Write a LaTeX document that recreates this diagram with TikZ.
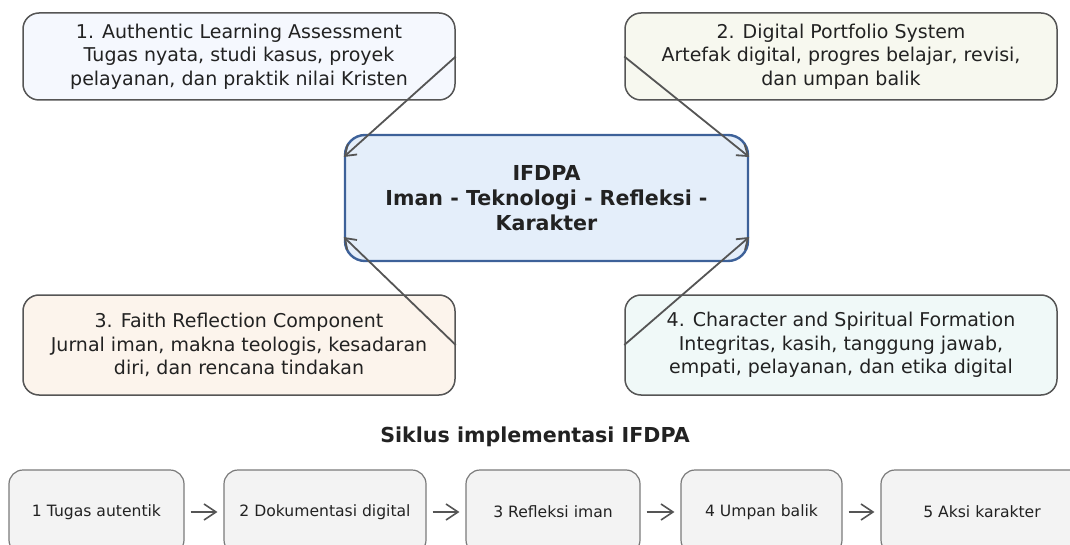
\documentclass[tikz,border=0pt]{standalone}
\usepackage{fontspec}
\setmainfont{DejaVu Sans}
\usetikzlibrary{arrows.meta}
\definecolor{inkgray}{HTML}{222222}
\definecolor{edgegray}{HTML}{555555}
\definecolor{fillauth}{HTML}{F5F8FE}
\definecolor{fillport}{HTML}{F7F8EF}
\definecolor{fillfaith}{HTML}{FCF4EC}
\definecolor{fillchar}{HTML}{F0F9F8}
\definecolor{fillhub}{HTML}{E4EEFA}
\definecolor{edgehub}{HTML}{3D6199}
\definecolor{fillcycle}{HTML}{F3F3F3}
\definecolor{edgecycle}{HTML}{7A7A7A}
\tikzset{>={Straight Barb[length=5pt,width=7pt]}}
\tikzset{
  compbox/.style={draw=edgegray, line width=0.75pt, rounded corners=8pt,
    minimum width=216pt, align=center, text=inkgray,
    font=\fontsize{9.5}{11.75}\selectfont},
  hubbox/.style={draw=edgehub, fill=fillhub, line width=1.2pt, rounded corners=10pt,
    minimum width=201.5pt, minimum height=63pt, align=center, text=inkgray,
    font=\fontsize{10.3}{12.6}\selectfont\bfseries},
  cyclebox/.style={draw=edgecycle, fill=fillcycle, line width=0.6pt, rounded corners=7pt,
    minimum height=42pt, text=inkgray, font=\fontsize{7.8}{9.5}\selectfont},
  link/.style={->, draw=edgegray, line width=0.9pt},
  cyclelink/.style={-{Straight Barb[length=6pt,width=8pt]}, draw=edgegray, line width=0.8pt,
    shorten <=3pt, shorten >=3pt}
}

\begin{document}
\begin{tikzpicture}[x=0.5pt,y=-0.5pt]
\useasboundingbox (0,0) rectangle (1070,545);
\clip (0,0) rectangle (1070,545);
    % four components round the hub
    \node[compbox, fill=fillauth, minimum height=43.5pt] (auth) at (239,56.5)
      {1. Authentic Learning Assessment\\Tugas nyata, studi kasus, proyek\\pelayanan, dan praktik nilai Kristen};
    \node[compbox, fill=fillport, minimum height=43.5pt] (port) at (841,56.5)
      {2. Digital Portfolio System\\Artefak digital, progres belajar, revisi,\\dan umpan balik};
    \node[compbox, fill=fillfaith, minimum height=50pt] (faith) at (239,345)
      {3. Faith Reflection Component\\Jurnal iman, makna teologis, kesadaran\\diri, dan rencana tindakan};
    \node[compbox, fill=fillchar, minimum height=50pt] (char) at (841,345)
      {4. Character and Spiritual Formation\\Integritas, kasih, tanggung jawab,\\empati, pelayanan, dan etika digital};
    \node[hubbox] (hub) at (546.5,198) {IFDPA\\Iman - Teknologi - Refleksi -\\Karakter};
    \draw[link] (auth.east) -- ([yshift=20.5pt]hub.west);
    \draw[link] (port.west) -- ([yshift=20.5pt]hub.east);
    \draw[link] (faith.east) -- ([yshift=-19.5pt]hub.west);
    \draw[link] (char.west) -- ([yshift=-19.5pt]hub.east);
    % cycle row
    \node[font=\fontsize{10.3}{12}\selectfont\bfseries, text=inkgray] (cycletitle) at (535,437)
      {Siklus implementasi IFDPA};
    \node[cyclebox, minimum width=87.5pt] (step1) at (96.5,512) {1 Tugas autentik};
    \node[cyclebox, minimum width=101pt] (step2) at (325,512) {2 Dokumentasi digital};
    \node[cyclebox, minimum width=87pt] (step3) at (553,512) {3 Refleksi iman};
    \node[cyclebox, minimum width=80.5pt] (step4) at (761.5,512) {4 Umpan balik};
    \node[cyclebox, minimum width=101pt] (step5) at (982,512) {5 Aksi karakter};
    \foreach \a/\b in {step1/step2,step2/step3,step3/step4,step4/step5}
      \draw[cyclelink] (\a.east) -- (\b.west);
\end{tikzpicture}
\end{document}
